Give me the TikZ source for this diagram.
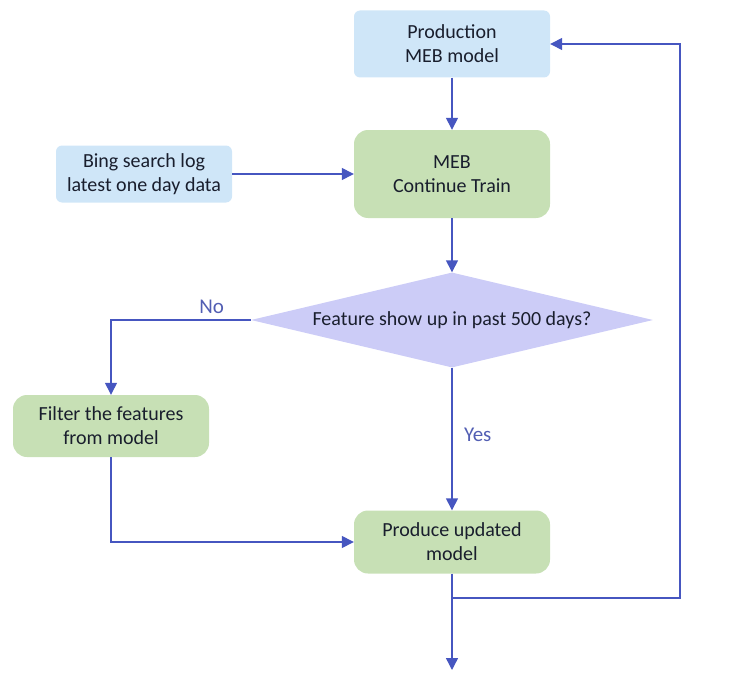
\documentclass[tikz,border=0pt]{standalone}
\usepackage{fontspec}
\setmainfont{Carlito}
\usetikzlibrary{shapes.geometric,arrows.meta}
\definecolor{boxblue}{RGB}{207,230,248}
\definecolor{boxgreen}{RGB}{199,224,181}
\definecolor{boxviolet}{RGB}{204,204,247}
\definecolor{flowblue}{RGB}{70,86,192}
\definecolor{inktext}{RGB}{25,30,45}
\begin{document}
\begin{tikzpicture}[x=1pt, y=-1pt,
  box/.style={rounded corners=14pt, align=center, text=inktext,
    font=\fontsize{20}{24}\selectfont, minimum width=196pt},
  bluebox/.style={box, fill=boxblue, rounded corners=6pt},
  greenbox/.style={box, fill=boxgreen},
  decision/.style={diamond, fill=boxviolet, aspect=4.2, inner sep=3pt,
    minimum width=402pt, minimum height=95pt, text=inktext,
    font=\fontsize{20}{24}\selectfont},
  flow/.style={draw=flowblue, line width=1.4pt,
    -{Triangle[width=12pt,length=12pt]}},
  answer/.style={text=flowblue!80!gray, font=\fontsize{21}{24}\selectfont}]
\useasboundingbox (0,0) rectangle (734,693);

\node[bluebox, minimum height=67pt] (prod) at (452,44) {Production\\MEB model};
\node[greenbox, minimum height=88pt] (train) at (452,174) {MEB\\Continue Train};
\node[bluebox, minimum width=176pt, minimum height=57pt] (bing) at (144,174) {Bing search log\\latest one day data};
\node[decision] (check) at (452,320) {Feature show up in past 500 days?};
\node[greenbox, minimum height=62pt] (filter) at (111,426) {Filter the features\\from model};
\node[greenbox, minimum height=63pt] (update) at (452,542) {Produce updated\\model};

\coordinate (split) at (452,598);
\coordinate (turn) at (680,598);
\coordinate (out) at (452,670);

\draw[flow] (prod) -- (train);
\draw[flow] (bing) -- (train);
\draw[flow] (train) -- (check);
\draw[flow] (check.west) -| (filter.north) node[answer, pos=0.14, above=2pt] (no) {No};
\draw[flow] (check) -- (update) node[answer, pos=0.47, right=8pt] (yes) {Yes};
\draw[flow] (filter) |- (update);
\draw[flow] (update) -- (out);
\draw[flow] (split) -- (turn) |- (prod.east);
\end{tikzpicture}
\end{document}
